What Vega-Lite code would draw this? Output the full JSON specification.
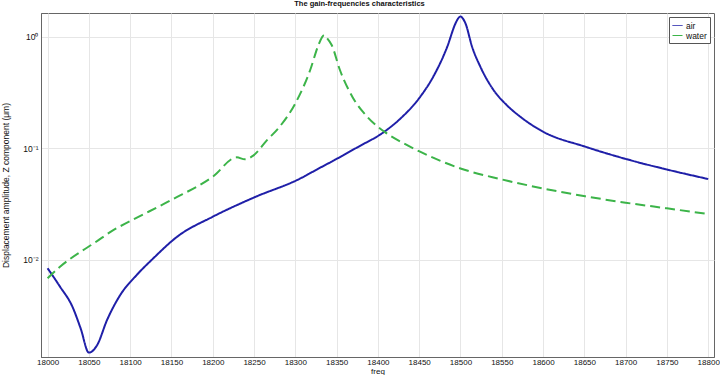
{
  "$schema": "https://vega.github.io/schema/vega-lite/v6.json",
  "autosize": {"type": "none"},
  "padding": {"left": 41, "top": 13, "right": 6, "bottom": 18},
  "width": 673,
  "height": 344,
  "background": "white",
  "title": {"text": "The gain-frequencies characteristics", "fontSize": 7.5, "font": "Liberation Sans", "fontWeight": "bold", "anchor": "middle", "dx": -18, "offset": 5, "color": "#111"},
  "data": {"values": [
    {"freq": 18000, "amp": 0.00843, "series": "air"},
    {"freq": 18015, "amp": 0.00577, "series": "air"},
    {"freq": 18030, "amp": 0.00382, "series": "air"},
    {"freq": 18040, "amp": 0.00244, "series": "air"},
    {"freq": 18050, "amp": 0.00148, "series": "air"},
    {"freq": 18060, "amp": 0.00173, "series": "air"},
    {"freq": 18072, "amp": 0.0029, "series": "air"},
    {"freq": 18088, "amp": 0.00486, "series": "air"},
    {"freq": 18108, "amp": 0.00735, "series": "air"},
    {"freq": 18128, "amp": 0.01035, "series": "air"},
    {"freq": 18157, "amp": 0.01618, "series": "air"},
    {"freq": 18200, "amp": 0.0244, "series": "air"},
    {"freq": 18250, "amp": 0.0363, "series": "air"},
    {"freq": 18306, "amp": 0.0537, "series": "air"},
    {"freq": 18326, "amp": 0.0646, "series": "air"},
    {"freq": 18350, "amp": 0.0804, "series": "air"},
    {"freq": 18375, "amp": 0.102, "series": "air"},
    {"freq": 18407, "amp": 0.1396, "series": "air"},
    {"freq": 18427, "amp": 0.184, "series": "air"},
    {"freq": 18451, "amp": 0.288, "series": "air"},
    {"freq": 18467, "amp": 0.438, "series": "air"},
    {"freq": 18484, "amp": 0.814, "series": "air"},
    {"freq": 18494, "amp": 1.318, "series": "air"},
    {"freq": 18497, "amp": 1.45, "series": "air"},
    {"freq": 18500, "amp": 1.52, "series": "air"},
    {"freq": 18503, "amp": 1.45, "series": "air"},
    {"freq": 18506, "amp": 1.318, "series": "air"},
    {"freq": 18514, "amp": 0.814, "series": "air"},
    {"freq": 18524, "amp": 0.539, "series": "air"},
    {"freq": 18540, "amp": 0.333, "series": "air"},
    {"freq": 18556, "amp": 0.244, "series": "air"},
    {"freq": 18572, "amp": 0.193, "series": "air"},
    {"freq": 18600, "amp": 0.141, "series": "air"},
    {"freq": 18651, "amp": 0.1035, "series": "air"},
    {"freq": 18700, "amp": 0.0804, "series": "air"},
    {"freq": 18750, "amp": 0.0646, "series": "air"},
    {"freq": 18800, "amp": 0.0531, "series": "air"},
    {"freq": 18000, "amp": 0.00686, "series": "water"},
    {"freq": 18015, "amp": 0.0087, "series": "water"},
    {"freq": 18040, "amp": 0.01186, "series": "water"},
    {"freq": 18056, "amp": 0.0141, "series": "water"},
    {"freq": 18080, "amp": 0.0186, "series": "water"},
    {"freq": 18100, "amp": 0.0223, "series": "water"},
    {"freq": 18150, "amp": 0.0345, "series": "water"},
    {"freq": 18200, "amp": 0.0557, "series": "water"},
    {"freq": 18229, "amp": 0.0830, "series": "water"},
    {"freq": 18239, "amp": 0.0798, "series": "water"},
    {"freq": 18249, "amp": 0.0860, "series": "water"},
    {"freq": 18266, "amp": 0.119, "series": "water"},
    {"freq": 18280, "amp": 0.153, "series": "water"},
    {"freq": 18300, "amp": 0.253, "series": "water"},
    {"freq": 18318, "amp": 0.503, "series": "water"},
    {"freq": 18328, "amp": 0.843, "series": "water"},
    {"freq": 18332, "amp": 0.98, "series": "water"},
    {"freq": 18335, "amp": 1.036, "series": "water"},
    {"freq": 18338, "amp": 0.98, "series": "water"},
    {"freq": 18344, "amp": 0.843, "series": "water"},
    {"freq": 18354, "amp": 0.503, "series": "water"},
    {"freq": 18369, "amp": 0.29, "series": "water"},
    {"freq": 18387, "amp": 0.192, "series": "water"},
    {"freq": 18409, "amp": 0.139, "series": "water"},
    {"freq": 18431, "amp": 0.111, "series": "water"},
    {"freq": 18451, "amp": 0.0933, "series": "water"},
    {"freq": 18473, "amp": 0.0787, "series": "water"},
    {"freq": 18500, "amp": 0.066, "series": "water"},
    {"freq": 18548, "amp": 0.0531, "series": "water"},
    {"freq": 18600, "amp": 0.0437, "series": "water"},
    {"freq": 18651, "amp": 0.0372, "series": "water"},
    {"freq": 18700, "amp": 0.0326, "series": "water"},
    {"freq": 18750, "amp": 0.029, "series": "water"},
    {"freq": 18800, "amp": 0.0258, "series": "water"}
  ]},
  "mark": {"type": "line", "strokeWidth": 2, "interpolate": "monotone"},
  "encoding": {
    "x": {
      "field": "freq", "type": "quantitative", "title": "freq",
      "scale": {"domain": [17992, 18807], "nice": false, "zero": false},
      "axis": {
        "values": [18000, 18050, 18100, 18150, 18200, 18250, 18300, 18350, 18400, 18450, 18500, 18550, 18600, 18650, 18700, 18750, 18800],
        "format": "d", "labelOverlap": false, "labelFlush": false,
        "ticks": false, "labelPadding": 1, "titlePadding": 1,
        "labelFontSize": 8, "titleFontSize": 8
      }
    },
    "y": {
      "field": "amp", "type": "quantitative",
      "title": "Displacement amplitude, Z component (μm)",
      "scale": {"type": "log", "domain": [0.001352, 1.63], "nice": false},
      "axis": {
        "values": [0.01, 0.1, 1],
        "labelExpr": "datum.value >= 0.5 ? '10⁰' : datum.value >= 0.05 ? '10⁻¹' : '10⁻²'",
        "ticks": false, "labelPadding": 3, "titlePadding": 12
      }
    },
    "color": {
      "field": "series", "type": "nominal", "title": null,
      "scale": {"domain": ["air", "water"], "range": ["#1f1fa8", "#3cb449"]}
    },
    "strokeDash": {
      "field": "series", "type": "nominal", "title": null,
      "scale": {"domain": ["air", "water"], "range": [[1, 0], [10, 5]]}
    }
  },
  "config": {
    "font": "Liberation Sans",
    "view": {"stroke": "#666", "strokeWidth": 1},
    "axis": {
      "labelFont": "Liberation Sans", "labelFontSize": 8.5, "labelColor": "#111",
      "titleFont": "Liberation Sans", "titleFontSize": 8.5, "titleFontWeight": "normal", "titleColor": "#111",
      "domainColor": "#666", "gridColor": "#e6e6e6", "grid": true
    },
    "legend": {
      "orient": "top-right", "offset": 4, "padding": 3,
      "strokeColor": "#555", "fillColor": "white",
      "labelFont": "Liberation Sans", "labelFontSize": 8.5, "labelColor": "#111",
      "symbolType": "stroke", "symbolSize": 100, "symbolStrokeWidth": 1,
      "rowPadding": 0, "labelOffset": 3
    }
  }
}
